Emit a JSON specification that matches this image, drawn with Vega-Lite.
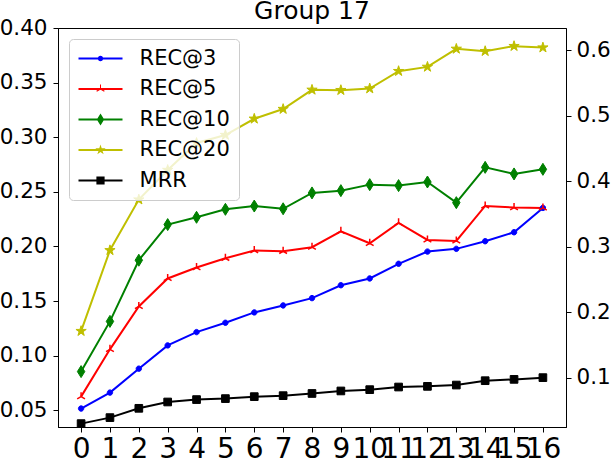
{
  "$schema": "https://vega.github.io/schema/vega-lite/v6.json",
  "width": 508,
  "height": 399,
  "autosize": {"type": "none"},
  "padding": {"left": 58, "top": 28, "right": 50, "bottom": 39},
  "title": {"text": "Group 17", "fontSize": 25, "fontWeight": "normal", "color": "#000000", "baseline": "alphabetic", "offset": -27},
  "data": {
    "values": [
      {"x": 0, "series": "REC@3", "v": 0.0516}, {"x": 1, "series": "REC@3", "v": 0.0662}, {"x": 2, "series": "REC@3", "v": 0.0881},
      {"x": 3, "series": "REC@3", "v": 0.1094}, {"x": 4, "series": "REC@3", "v": 0.1216}, {"x": 5, "series": "REC@3", "v": 0.1301},
      {"x": 6, "series": "REC@3", "v": 0.1396}, {"x": 7, "series": "REC@3", "v": 0.1460}, {"x": 8, "series": "REC@3", "v": 0.1527},
      {"x": 9, "series": "REC@3", "v": 0.1645}, {"x": 10, "series": "REC@3", "v": 0.1707}, {"x": 11, "series": "REC@3", "v": 0.1841},
      {"x": 12, "series": "REC@3", "v": 0.1953}, {"x": 13, "series": "REC@3", "v": 0.1978}, {"x": 14, "series": "REC@3", "v": 0.2048},
      {"x": 15, "series": "REC@3", "v": 0.2130}, {"x": 16, "series": "REC@3", "v": 0.2353},
      {"x": 0, "series": "REC@5", "v": 0.0625}, {"x": 1, "series": "REC@5", "v": 0.1058}, {"x": 2, "series": "REC@5", "v": 0.1451},
      {"x": 3, "series": "REC@5", "v": 0.1707}, {"x": 4, "series": "REC@5", "v": 0.1807}, {"x": 5, "series": "REC@5", "v": 0.1892},
      {"x": 6, "series": "REC@5", "v": 0.1963}, {"x": 7, "series": "REC@5", "v": 0.1956}, {"x": 8, "series": "REC@5", "v": 0.1993},
      {"x": 9, "series": "REC@5", "v": 0.2139}, {"x": 10, "series": "REC@5", "v": 0.2029}, {"x": 11, "series": "REC@5", "v": 0.2216},
      {"x": 12, "series": "REC@5", "v": 0.2060}, {"x": 13, "series": "REC@5", "v": 0.2051}, {"x": 14, "series": "REC@5", "v": 0.2371},
      {"x": 15, "series": "REC@5", "v": 0.2356}, {"x": 16, "series": "REC@5", "v": 0.2353},
      {"x": 0, "series": "REC@10", "v": 0.0854}, {"x": 1, "series": "REC@10", "v": 0.1314}, {"x": 2, "series": "REC@10", "v": 0.1874},
      {"x": 3, "series": "REC@10", "v": 0.2200}, {"x": 4, "series": "REC@10", "v": 0.2267}, {"x": 5, "series": "REC@10", "v": 0.2340},
      {"x": 6, "series": "REC@10", "v": 0.2370}, {"x": 7, "series": "REC@10", "v": 0.2345}, {"x": 8, "series": "REC@10", "v": 0.2490},
      {"x": 9, "series": "REC@10", "v": 0.2511}, {"x": 10, "series": "REC@10", "v": 0.2566}, {"x": 11, "series": "REC@10", "v": 0.2557},
      {"x": 12, "series": "REC@10", "v": 0.2590}, {"x": 13, "series": "REC@10", "v": 0.2401}, {"x": 14, "series": "REC@10", "v": 0.2724},
      {"x": 15, "series": "REC@10", "v": 0.2664}, {"x": 16, "series": "REC@10", "v": 0.2706},
      {"x": 0, "series": "REC@20", "v": 0.1225}, {"x": 1, "series": "REC@20", "v": 0.1965}, {"x": 2, "series": "REC@20", "v": 0.2429},
      {"x": 3, "series": "REC@20", "v": 0.2700}, {"x": 4, "series": "REC@20", "v": 0.2947}, {"x": 5, "series": "REC@20", "v": 0.3020},
      {"x": 6, "series": "REC@20", "v": 0.3169}, {"x": 7, "series": "REC@20", "v": 0.3258}, {"x": 8, "series": "REC@20", "v": 0.3434},
      {"x": 9, "series": "REC@20", "v": 0.3431}, {"x": 10, "series": "REC@20", "v": 0.3446}, {"x": 11, "series": "REC@20", "v": 0.3605},
      {"x": 12, "series": "REC@20", "v": 0.3644}, {"x": 13, "series": "REC@20", "v": 0.3809}, {"x": 14, "series": "REC@20", "v": 0.3788},
      {"x": 15, "series": "REC@20", "v": 0.3834}, {"x": 16, "series": "REC@20", "v": 0.3821},
      {"x": 0, "series": "MRR", "v": 0.0378}, {"x": 1, "series": "MRR", "v": 0.0433}, {"x": 2, "series": "MRR", "v": 0.0518},
      {"x": 3, "series": "MRR", "v": 0.0576}, {"x": 4, "series": "MRR", "v": 0.0598}, {"x": 5, "series": "MRR", "v": 0.0607},
      {"x": 6, "series": "MRR", "v": 0.0625}, {"x": 7, "series": "MRR", "v": 0.0634}, {"x": 8, "series": "MRR", "v": 0.0654},
      {"x": 9, "series": "MRR", "v": 0.0677}, {"x": 10, "series": "MRR", "v": 0.0689}, {"x": 11, "series": "MRR", "v": 0.0713},
      {"x": 12, "series": "MRR", "v": 0.0719}, {"x": 13, "series": "MRR", "v": 0.0731}, {"x": 14, "series": "MRR", "v": 0.0771},
      {"x": 15, "series": "MRR", "v": 0.0783}, {"x": 16, "series": "MRR", "v": 0.0799}
    ]
  },
  "encoding": {
    "x": {
      "field": "x",
      "type": "quantitative",
      "scale": {"domain": [-0.8, 16.8], "nice": false, "zero": false},
      "axis": {
        "values": [0, 1, 2, 3, 4, 5, 6, 7, 8, 9, 10, 11, 12, 13, 14, 15, 16],
        "title": null,
        "grid": false,
        "labelFontSize": 28,
        "labelOverlap": false,
        "labelFlush": false,
        "labelBound": false,
        "tickSize": 5,
        "labelPadding": 3
      }
    }
  },
  "layer": [
    {
      "mark": {"type": "line", "strokeWidth": 2},
      "encoding": {
        "y": {
          "field": "v",
          "type": "quantitative",
          "scale": {"domain": [0.0347, 0.40], "nice": false, "zero": false},
          "axis": {
            "values": [0.05, 0.10, 0.15, 0.20, 0.25, 0.30, 0.35, 0.40],
            "format": ".2f",
            "title": null,
            "grid": false,
            "labelFontSize": 21.5,
            "labelFlush": false,
            "tickSize": 5,
            "labelPadding": 6
          }
        },
        "stroke": {
          "field": "series",
          "type": "nominal",
          "scale": {"domain": ["MRR", "REC@20", "REC@10", "REC@5", "REC@3"], "range": ["#000000", "#bfbf00", "#008000", "#ff0000", "#0000ff"]},
          "legend": null
        }
      }
    },
    {
      "transform": [{"filter": {"field": "series", "equal": "REC@3"}}],
      "mark": {"type": "point", "filled": true, "opacity": 1, "size": 144, "color": "#0000ff", "stroke": "#0000ff", "strokeWidth": 1,
               "shape": "M0.45,0A0.45,0.45,0,1,1,-0.45,0A0.45,0.45,0,1,1,0.45,0Z"},
      "encoding": {"y": {"field": "v", "type": "quantitative", "scale": {"domain": [0.0347, 0.40], "nice": false, "zero": false}, "axis": null}}
    },
    {
      "transform": [{"filter": {"field": "series", "equal": "REC@5"}}],
      "mark": {"type": "point", "filled": false, "opacity": 1, "size": 144, "color": "#ff0000", "strokeWidth": 1.5,
               "shape": "M0,0L0,-0.75M0,0L-0.65,0.375M0,0L0.65,0.375"},
      "encoding": {"y": {"field": "v", "type": "quantitative", "scale": {"domain": [0.0347, 0.40], "nice": false, "zero": false}, "axis": null}}
    },
    {
      "transform": [{"filter": {"field": "series", "equal": "REC@10"}}],
      "mark": {"type": "point", "filled": true, "opacity": 1, "size": 144, "color": "#008000", "stroke": "#008000", "strokeWidth": 1,
               "shape": "M0,-1L0.62,0L0,1L-0.62,0Z"},
      "encoding": {"y": {"field": "v", "type": "quantitative", "scale": {"domain": [0.0347, 0.40], "nice": false, "zero": false}, "axis": null}}
    },
    {
      "transform": [{"filter": {"field": "series", "equal": "REC@20"}}],
      "mark": {"type": "point", "filled": true, "opacity": 1, "size": 144, "color": "#bfbf00", "stroke": "#bfbf00", "strokeWidth": 1,
               "shape": "M0,-0.9L0.202,-0.278L0.856,-0.278L0.327,0.106L0.529,0.728L0,0.344L-0.529,0.728L-0.327,0.106L-0.856,-0.278L-0.202,-0.278Z"},
      "encoding": {"y": {"field": "v", "type": "quantitative", "scale": {"domain": [0.0347, 0.40], "nice": false, "zero": false}, "axis": null}}
    },
    {
      "transform": [{"filter": {"field": "series", "equal": "MRR"}}],
      "mark": {"type": "point", "filled": true, "opacity": 1, "size": 144, "color": "#000000", "stroke": "#000000", "strokeWidth": 1,
               "shape": "M-0.64,-0.64H0.64V0.64H-0.64Z"},
      "encoding": {"y": {"field": "v", "type": "quantitative", "scale": {"domain": [0.0347, 0.40], "nice": false, "zero": false}, "axis": null}}
    },
    {
      "mark": {"type": "point", "filled": true, "opacity": 0, "size": 400},
      "encoding": {
        "y": {"field": "v", "type": "quantitative", "scale": {"domain": [0.0347, 0.40], "nice": false, "zero": false}, "axis": null},
        "color": {
          "field": "series",
          "type": "nominal",
          "scale": {"domain": ["REC@3", "REC@5", "REC@10", "REC@20", "MRR"], "range": ["#0000ff", "#ff0000", "#008000", "#bfbf00", "#000000"]},
          "legend": {
            "title": null, "orient": "top-left", "offset": 11, "padding": 9, "labelFontSize": 21, "labelColor": "#000000",
            "labelOffset": 40.6, "symbolSize": 400, "symbolOpacity": 1, "symbolStrokeWidth": 0, "rowPadding": 8.5,
            "fillColor": "rgba(255,255,255,0.8)", "strokeColor": "#cccccc", "cornerRadius": 4, "labelLimit": 300
          }
        },
        "shape": {
          "field": "series",
          "type": "nominal",
          "scale": {
            "domain": ["REC@3", "REC@5", "REC@10", "REC@20", "MRR"],
            "range": [
              "M-1,-0.1H3.4V0.1H-1Z M1.47,0A0.27,0.27,0,1,1,0.93,0A0.27,0.27,0,1,1,1.47,0Z",
              "M-1,-0.1H3.4V0.1H-1Z M1.15,-0.45H1.25V0H1.15Z M1.23,-0.052L1.62,0.173L1.56,0.277L1.17,0.052Z M1.23,0.052L0.84,0.277L0.78,0.173L1.17,-0.052Z",
              "M-1,-0.1H3.4V0.1H-1Z M1.2,-0.6L1.57,0L1.2,0.6L0.83,0Z",
              "M-1,-0.1H3.4V0.1H-1Z M1.2,-0.54L1.321,-0.167L1.714,-0.167L1.396,0.064L1.517,0.437L1.2,0.206L0.883,0.437L1.004,0.064L0.686,-0.167L1.079,-0.167Z",
              "M-1,-0.1H3.4V0.1H-1Z M0.79,-0.41H1.61V0.41H0.79Z"
            ]
          },
          "legend": {
            "title": null, "orient": "top-left", "offset": 11, "padding": 9, "labelFontSize": 21, "labelColor": "#000000",
            "labelOffset": 40.6, "symbolSize": 400, "symbolOpacity": 1, "symbolStrokeWidth": 0, "rowPadding": 8.5,
            "fillColor": "rgba(255,255,255,0.8)", "strokeColor": "#cccccc", "cornerRadius": 4, "labelLimit": 300
          }
        }
      }
    },
    {
      "mark": {"type": "point", "opacity": 0},
      "encoding": {
        "y": {
          "field": "v",
          "type": "quantitative",
          "scale": {"domain": [0.0246, 0.634], "nice": false, "zero": false},
          "axis": {
            "orient": "right",
            "values": [0.1, 0.2, 0.3, 0.4, 0.5, 0.6],
            "format": ".1f",
            "title": null,
            "grid": false,
            "labelFontSize": 21.5,
            "labelFlush": false,
            "tickSize": 5,
            "labelPadding": 5
          }
        }
      }
    }
  ],
  "resolve": {"scale": {"y": "independent"}},
  "config": {
    "font": "DejaVu Sans",
    "view": {"stroke": "#000000", "strokeWidth": 1},
    "axis": {"domainColor": "#000000", "tickColor": "#000000", "labelColor": "#000000", "domainWidth": 1, "tickWidth": 1}
  }
}
